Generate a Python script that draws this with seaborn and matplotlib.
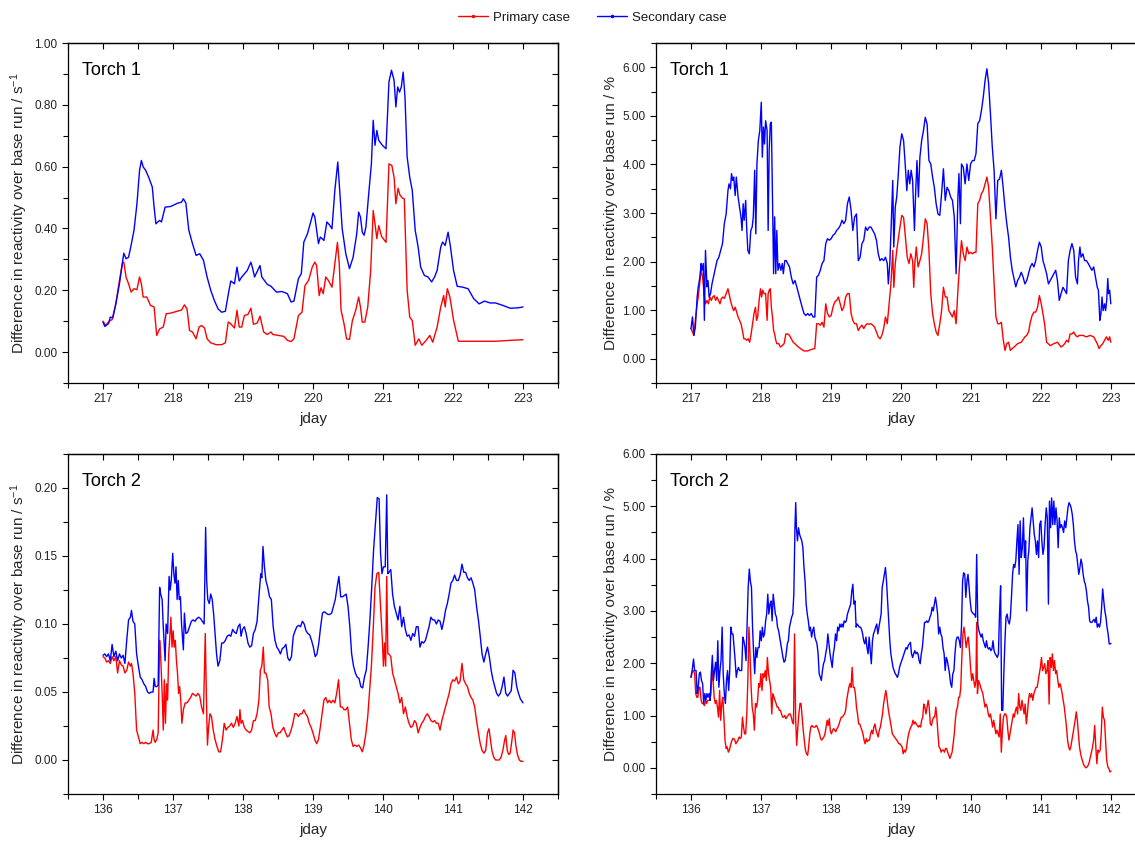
import numpy as np
import matplotlib
matplotlib.use('Agg')
import matplotlib.pyplot as plt
from matplotlib.lines import Line2D
from matplotlib.ticker import MultipleLocator, FormatStrFormatter
import seaborn as sns

# ---- Torch 1, reactivity difference (s^-1): (jday, value) ----
t1_rate_primary = [
    (217.000, 0.100), (217.037, 0.086), (217.078, 0.097), (217.104, 0.102), (217.130, 0.105),
    (217.183, 0.156), (217.235, 0.232), (217.276, 0.286), (217.297, 0.291), (217.329, 0.243),
    (217.365, 0.221), (217.402, 0.194), (217.443, 0.205), (217.485, 0.202), (217.522, 0.243),
    (217.548, 0.221), (217.574, 0.178), (217.626, 0.178), (217.678, 0.151), (217.730, 0.146),
    (217.767, 0.054), (217.809, 0.075), (217.861, 0.081), (217.902, 0.124), (217.965, 0.126),
    (218.043, 0.131), (218.122, 0.136), (218.163, 0.153), (218.200, 0.140), (218.236, 0.070),
    (218.278, 0.065), (218.330, 0.043), (218.372, 0.081), (218.408, 0.086), (218.450, 0.078),
    (218.487, 0.043), (218.539, 0.030), (218.617, 0.024), (218.695, 0.024), (218.748, 0.030),
    (218.789, 0.097), (218.815, 0.094), (218.878, 0.078), (218.914, 0.135), (218.946, 0.081),
    (218.982, 0.081), (219.019, 0.118), (219.071, 0.122), (219.113, 0.142), (219.149, 0.090),
    (219.201, 0.094), (219.243, 0.116), (219.295, 0.065), (219.347, 0.057), (219.400, 0.065),
    (219.426, 0.057), (219.504, 0.054), (219.582, 0.051), (219.634, 0.038), (219.687, 0.034),
    (219.728, 0.043), (219.791, 0.118), (219.843, 0.129), (219.885, 0.215), (219.937, 0.232),
    (219.989, 0.275), (220.026, 0.291), (220.052, 0.280), (220.088, 0.183), (220.114, 0.208),
    (220.146, 0.189), (220.182, 0.243), (220.219, 0.232), (220.271, 0.210), (220.312, 0.286),
    (220.349, 0.355), (220.375, 0.286), (220.401, 0.135), (220.443, 0.092), (220.479, 0.043),
    (220.521, 0.041), (220.563, 0.102), (220.610, 0.135), (220.652, 0.178), (220.678, 0.146),
    (220.704, 0.097), (220.740, 0.097), (220.782, 0.146), (220.824, 0.264), (220.860, 0.458),
    (220.886, 0.415), (220.912, 0.367), (220.939, 0.409), (220.980, 0.374), (221.043, 0.355),
    (221.085, 0.609), (221.126, 0.604), (221.158, 0.566), (221.184, 0.480), (221.215, 0.530),
    (221.241, 0.509), (221.278, 0.498), (221.304, 0.496), (221.345, 0.200), (221.382, 0.113),
    (221.418, 0.102), (221.460, 0.022), (221.512, 0.043), (221.554, 0.022), (221.617, 0.038),
    (221.669, 0.054), (221.710, 0.032), (221.773, 0.081), (221.825, 0.146), (221.867, 0.183),
    (221.888, 0.146), (221.919, 0.205), (221.956, 0.178), (222.008, 0.103), (222.076, 0.035),
    (222.190, 0.035), (222.399, 0.035), (222.608, 0.035), (222.816, 0.038), (223.000, 0.040),
]
t1_rate_secondary = [
    (217.000, 0.097), (217.026, 0.083), (217.078, 0.092), (217.104, 0.113), (217.141, 0.111),
    (217.183, 0.156), (217.235, 0.221), (217.276, 0.286), (217.297, 0.320), (217.329, 0.302),
    (217.365, 0.307), (217.391, 0.334), (217.443, 0.394), (217.485, 0.480), (217.522, 0.588),
    (217.548, 0.620), (217.574, 0.599), (217.610, 0.588), (217.652, 0.566), (217.704, 0.534),
    (217.730, 0.469), (217.756, 0.415), (217.782, 0.421), (217.809, 0.426), (217.835, 0.421),
    (217.887, 0.469), (217.965, 0.471), (218.069, 0.482), (218.122, 0.485), (218.148, 0.496),
    (218.184, 0.482), (218.226, 0.394), (218.278, 0.351), (218.330, 0.313), (218.382, 0.318),
    (218.435, 0.297), (218.487, 0.243), (218.539, 0.200), (218.591, 0.167), (218.643, 0.140),
    (218.695, 0.129), (218.748, 0.132), (218.800, 0.200), (218.826, 0.230), (218.878, 0.221),
    (218.914, 0.275), (218.946, 0.230), (218.982, 0.243), (219.061, 0.264), (219.113, 0.291),
    (219.139, 0.270), (219.165, 0.243), (219.243, 0.280), (219.269, 0.243), (219.347, 0.219),
    (219.400, 0.213), (219.478, 0.194), (219.556, 0.196), (219.634, 0.189), (219.687, 0.162),
    (219.728, 0.165), (219.791, 0.237), (219.833, 0.254), (219.869, 0.356), (219.921, 0.383),
    (219.973, 0.426), (220.000, 0.450), (220.026, 0.437), (220.078, 0.351), (220.104, 0.372),
    (220.130, 0.367), (220.156, 0.361), (220.198, 0.421), (220.234, 0.412), (220.271, 0.399),
    (220.312, 0.523), (220.354, 0.615), (220.375, 0.545), (220.417, 0.399), (220.469, 0.318),
    (220.521, 0.270), (220.573, 0.307), (220.625, 0.383), (220.652, 0.453), (220.678, 0.437),
    (220.704, 0.388), (220.730, 0.378), (220.756, 0.405), (220.792, 0.502), (220.834, 0.609),
    (220.860, 0.750), (220.886, 0.669), (220.912, 0.717), (220.939, 0.685), (220.991, 0.669),
    (221.043, 0.658), (221.085, 0.874), (221.121, 0.912), (221.158, 0.879), (221.184, 0.793),
    (221.210, 0.858), (221.236, 0.841), (221.262, 0.858), (221.288, 0.906), (221.314, 0.825),
    (221.345, 0.631), (221.382, 0.566), (221.418, 0.523), (221.460, 0.394), (221.502, 0.340),
    (221.538, 0.275), (221.591, 0.248), (221.643, 0.243), (221.695, 0.227), (221.737, 0.243),
    (221.773, 0.264), (221.825, 0.340), (221.851, 0.356), (221.888, 0.345), (221.930, 0.388),
    (221.961, 0.345), (222.008, 0.264), (222.060, 0.213), (222.138, 0.210), (222.216, 0.205),
    (222.295, 0.173), (222.373, 0.156), (222.451, 0.165), (222.530, 0.159), (222.608, 0.159),
    (222.712, 0.151), (222.816, 0.142), (222.921, 0.143), (223.000, 0.146),
]

# ---- Torch 1, reactivity difference (%) ----
t1_pct_primary = [
    (217.000, 0.62), (217.041, 0.48), (217.062, 0.79), (217.088, 1.13), (217.103, 1.27),
    (217.124, 1.54), (217.145, 1.82), (217.166, 1.68), (217.186, 1.34), (217.207, 1.13),
    (217.228, 1.20), (217.248, 1.13), (217.269, 1.27), (217.290, 1.20), (217.310, 1.27),
    (217.331, 1.30), (217.352, 1.20), (217.372, 1.27), (217.393, 1.20), (217.414, 1.13),
    (217.434, 1.24), (217.455, 1.27), (217.476, 1.24), (217.502, 1.34), (217.528, 1.44),
    (217.543, 1.34), (217.564, 1.20), (217.590, 1.06), (217.610, 0.99), (217.631, 1.06),
    (217.652, 0.96), (217.673, 0.86), (217.693, 0.79), (217.714, 0.72), (217.735, 0.58),
    (217.755, 0.41), (217.776, 0.41), (217.797, 0.38), (217.817, 0.41), (217.838, 0.34),
    (217.859, 0.51), (217.879, 0.72), (217.900, 0.93), (217.921, 1.06), (217.936, 0.79),
    (217.952, 0.86), (217.973, 1.20), (217.993, 1.44), (218.009, 1.27), (218.024, 1.41),
    (218.045, 1.34), (218.066, 1.34), (218.087, 0.79), (218.102, 1.34), (218.117, 1.41),
    (218.133, 1.44), (218.148, 1.06), (218.164, 0.86), (218.180, 0.58), (218.195, 0.51),
    (218.211, 0.38), (218.226, 0.31), (218.252, 0.31), (218.278, 0.24), (218.304, 0.27),
    (218.330, 0.31), (218.355, 0.51), (218.381, 0.51), (218.407, 0.48), (218.433, 0.41),
    (218.459, 0.34), (218.485, 0.31), (218.511, 0.27), (218.562, 0.21), (218.614, 0.16),
    (218.666, 0.16), (218.718, 0.19), (218.769, 0.21), (218.795, 0.72), (218.821, 0.72),
    (218.847, 0.69), (218.873, 0.75), (218.899, 0.65), (218.925, 1.13), (218.950, 0.93),
    (218.976, 0.86), (219.002, 0.89), (219.028, 1.06), (219.054, 1.17), (219.080, 1.20),
    (219.106, 1.27), (219.131, 1.13), (219.157, 0.99), (219.183, 1.06), (219.209, 1.27),
    (219.235, 1.34), (219.261, 1.34), (219.287, 0.93), (219.312, 0.79), (219.338, 0.72),
    (219.364, 0.72), (219.390, 0.58), (219.416, 0.65), (219.442, 0.69), (219.468, 0.62),
    (219.494, 0.69), (219.519, 0.72), (219.545, 0.71), (219.571, 0.72), (219.597, 0.69),
    (219.623, 0.65), (219.649, 0.55), (219.675, 0.45), (219.700, 0.41), (219.726, 0.48),
    (219.752, 0.62), (219.778, 0.86), (219.804, 0.72), (219.830, 1.13), (219.856, 1.54),
    (219.882, 2.23), (219.897, 1.47), (219.918, 1.95), (219.939, 2.23), (219.959, 2.44),
    (219.985, 2.71), (220.011, 2.95), (220.037, 2.91), (220.063, 2.50), (220.089, 2.09),
    (220.114, 1.96), (220.140, 2.16), (220.166, 2.02), (220.182, 1.47), (220.197, 1.96),
    (220.218, 2.30), (220.244, 1.89), (220.270, 2.02), (220.295, 2.16), (220.321, 2.50),
    (220.347, 2.88), (220.373, 2.78), (220.399, 2.23), (220.425, 1.34), (220.451, 0.93),
    (220.476, 0.72), (220.502, 0.55), (220.528, 0.48), (220.554, 0.72), (220.580, 0.99),
    (220.606, 1.47), (220.632, 1.27), (220.658, 1.27), (220.683, 0.99), (220.709, 0.93),
    (220.735, 0.86), (220.761, 0.99), (220.787, 0.72), (220.813, 1.41), (220.838, 1.95),
    (220.864, 2.43), (220.890, 2.16), (220.916, 2.02), (220.942, 2.30), (220.968, 2.16),
    (220.994, 2.19), (221.020, 2.16), (221.046, 2.19), (221.071, 2.19), (221.097, 3.19),
    (221.123, 3.26), (221.149, 3.40), (221.175, 3.46), (221.201, 3.60), (221.227, 3.74),
    (221.252, 3.53), (221.278, 2.91), (221.304, 2.30), (221.330, 1.54), (221.356, 0.86),
    (221.382, 0.72), (221.408, 0.72), (221.434, 0.75), (221.459, 0.41), (221.485, 0.17),
    (221.511, 0.31), (221.537, 0.34), (221.563, 0.17), (221.589, 0.21), (221.615, 0.24),
    (221.666, 0.31), (221.718, 0.34), (221.770, 0.45), (221.796, 0.48), (221.822, 0.55),
    (221.847, 0.75), (221.873, 0.89), (221.899, 0.96), (221.925, 0.96), (221.951, 1.06),
    (221.977, 1.30), (222.003, 1.13), (222.028, 0.93), (222.054, 0.69), (222.080, 0.34),
    (222.132, 0.27), (222.184, 0.31), (222.235, 0.34), (222.287, 0.24), (222.313, 0.27),
    (222.339, 0.31), (222.365, 0.38), (222.391, 0.34), (222.416, 0.51), (222.442, 0.51),
    (222.468, 0.55), (222.494, 0.48), (222.520, 0.45), (222.546, 0.48), (222.598, 0.48),
    (222.649, 0.45), (222.701, 0.48), (222.753, 0.45), (222.779, 0.38), (222.804, 0.31),
    (222.830, 0.21), (222.856, 0.27), (222.882, 0.31), (222.908, 0.38), (222.934, 0.45),
    (222.960, 0.38), (222.981, 0.45), (222.997, 0.34),
]
t1_pct_secondary = [
    (217.000, 0.62), (217.021, 0.86), (217.041, 0.48), (217.062, 0.65), (217.088, 1.27),
    (217.103, 1.47), (217.124, 1.65), (217.145, 1.96), (217.155, 1.82), (217.176, 1.96),
    (217.191, 0.79), (217.207, 2.23), (217.228, 1.48), (217.243, 1.61), (217.259, 1.27),
    (217.279, 1.34), (217.300, 1.54), (217.321, 1.68), (217.347, 1.85), (217.372, 2.02),
    (217.398, 2.09), (217.424, 2.23), (217.450, 2.37), (217.476, 2.78), (217.502, 2.98),
    (217.528, 3.46), (217.543, 3.60), (217.564, 3.50), (217.579, 3.81), (217.595, 3.67),
    (217.610, 3.74), (217.631, 3.36), (217.647, 3.74), (217.673, 3.33), (217.693, 3.12),
    (217.714, 2.92), (217.729, 2.64), (217.745, 3.19), (217.760, 2.85), (217.781, 3.26),
    (217.797, 2.64), (217.812, 2.23), (217.833, 2.16), (217.854, 2.64), (217.874, 2.71),
    (217.890, 2.92), (217.910, 3.88), (217.926, 2.57), (217.942, 4.01), (217.962, 4.49),
    (217.983, 4.70), (218.004, 5.28), (218.019, 4.15), (218.035, 4.77), (218.050, 4.42),
    (218.066, 4.90), (218.087, 4.70), (218.102, 2.64), (218.117, 4.29), (218.133, 4.84),
    (218.148, 4.87), (218.164, 3.33), (218.180, 1.75), (218.195, 2.92), (218.211, 1.75),
    (218.226, 2.64), (218.242, 1.82), (218.262, 1.96), (218.283, 1.82), (218.304, 1.96),
    (218.319, 1.75), (218.340, 2.02), (218.361, 2.02), (218.381, 1.96), (218.407, 1.89),
    (218.433, 1.68), (218.459, 1.54), (218.485, 1.61), (218.511, 1.48), (218.536, 1.34),
    (218.562, 1.20), (218.588, 1.06), (218.614, 0.93), (218.640, 0.89), (218.666, 0.93),
    (218.692, 0.89), (218.718, 0.93), (218.743, 0.86), (218.769, 0.86), (218.795, 1.68),
    (218.821, 1.72), (218.847, 1.82), (218.873, 1.96), (218.899, 2.02), (218.925, 2.37),
    (218.950, 2.47), (218.976, 2.44), (219.002, 2.47), (219.028, 2.54), (219.054, 2.57),
    (219.080, 2.64), (219.106, 2.68), (219.131, 2.74), (219.157, 2.85), (219.183, 2.78),
    (219.209, 2.85), (219.235, 3.19), (219.261, 3.33), (219.287, 3.05), (219.312, 2.64),
    (219.338, 2.92), (219.364, 2.98), (219.390, 2.02), (219.416, 2.09), (219.442, 2.37),
    (219.468, 2.44), (219.494, 2.71), (219.519, 2.64), (219.545, 2.71), (219.571, 2.71),
    (219.597, 2.64), (219.623, 2.57), (219.649, 2.44), (219.675, 2.16), (219.700, 2.02),
    (219.726, 2.06), (219.752, 2.02), (219.778, 2.09), (219.804, 1.96), (219.819, 1.54),
    (219.840, 1.96), (219.861, 2.78), (219.882, 3.67), (219.897, 2.30), (219.918, 3.12),
    (219.939, 3.33), (219.959, 3.74), (219.985, 4.36), (220.011, 4.63), (220.037, 4.49),
    (220.063, 3.94), (220.083, 3.46), (220.104, 3.88), (220.125, 3.60), (220.145, 3.88),
    (220.166, 3.67), (220.192, 2.64), (220.207, 3.33), (220.228, 4.08), (220.249, 3.33),
    (220.270, 4.15), (220.295, 4.49), (220.321, 4.70), (220.347, 4.97), (220.373, 4.83),
    (220.399, 4.08), (220.425, 4.01), (220.451, 3.74), (220.476, 3.53), (220.502, 3.19),
    (220.528, 2.98), (220.554, 2.95), (220.580, 3.40), (220.606, 3.91), (220.632, 3.26),
    (220.658, 3.53), (220.683, 3.46), (220.709, 3.33), (220.735, 3.26), (220.761, 2.92),
    (220.787, 1.75), (220.813, 3.33), (220.828, 3.81), (220.849, 2.78), (220.864, 4.01),
    (220.890, 3.94), (220.916, 3.60), (220.942, 4.01), (220.968, 3.67), (220.994, 4.01),
    (221.020, 4.08), (221.046, 4.08), (221.071, 4.22), (221.097, 4.84), (221.123, 4.90),
    (221.149, 5.11), (221.175, 5.38), (221.201, 5.73), (221.227, 5.97), (221.252, 5.66),
    (221.278, 5.04), (221.304, 4.36), (221.330, 3.88), (221.356, 2.88), (221.382, 3.67),
    (221.408, 3.70), (221.434, 3.88), (221.459, 3.53), (221.485, 3.12), (221.511, 2.78),
    (221.537, 2.50), (221.563, 2.09), (221.589, 1.82), (221.615, 1.65), (221.640, 1.48),
    (221.666, 1.61), (221.692, 1.68), (221.718, 1.78), (221.744, 1.68), (221.770, 1.54),
    (221.796, 1.61), (221.822, 1.75), (221.847, 1.89), (221.873, 1.96), (221.899, 1.89),
    (221.925, 2.02), (221.951, 2.23), (221.977, 2.40), (222.003, 2.30), (222.028, 2.02),
    (222.054, 1.89), (222.080, 1.75), (222.106, 1.54), (222.132, 1.61), (222.158, 1.68),
    (222.184, 1.75), (222.210, 1.82), (222.235, 1.61), (222.261, 1.20), (222.287, 1.34),
    (222.313, 1.47), (222.339, 1.41), (222.365, 1.34), (222.391, 2.02), (222.416, 2.23),
    (222.442, 2.37), (222.468, 2.23), (222.494, 1.68), (222.520, 1.54), (222.536, 2.02),
    (222.556, 2.30), (222.572, 2.09), (222.598, 2.16), (222.623, 2.02), (222.649, 2.02),
    (222.675, 1.96), (222.701, 1.89), (222.727, 1.82), (222.753, 1.89), (222.779, 1.68),
    (222.804, 1.47), (222.820, 1.41), (222.841, 0.79), (222.856, 0.93), (222.872, 1.27),
    (222.887, 0.99), (222.908, 1.13), (222.923, 0.99), (222.939, 1.20), (222.954, 1.65),
    (222.965, 1.34), (222.981, 1.41), (222.997, 1.13),
]

# ---- Torch 2, reactivity difference (s^-1) ----
t2_rate_primary = [
    (136.000, 0.076), (136.026, 0.075), (136.052, 0.072), (136.078, 0.073), (136.104, 0.071),
    (136.130, 0.076), (136.156, 0.073), (136.183, 0.076), (136.209, 0.064), (136.235, 0.073),
    (136.261, 0.070), (136.287, 0.069), (136.313, 0.064), (136.339, 0.066), (136.365, 0.072),
    (136.391, 0.069), (136.407, 0.071), (136.428, 0.064), (136.454, 0.049), (136.480, 0.022),
    (136.506, 0.017), (136.532, 0.012), (136.558, 0.013), (136.584, 0.012), (136.610, 0.013),
    (136.636, 0.012), (136.662, 0.012), (136.689, 0.013), (136.715, 0.022), (136.730, 0.015),
    (136.746, 0.013), (136.767, 0.015), (136.788, 0.020), (136.809, 0.088), (136.824, 0.076),
    (136.845, 0.049), (136.861, 0.022), (136.876, 0.059), (136.892, 0.027), (136.908, 0.056),
    (136.923, 0.044), (136.939, 0.078), (136.955, 0.091), (136.970, 0.105), (136.986, 0.083),
    (137.002, 0.095), (137.017, 0.083), (137.033, 0.088), (137.049, 0.073), (137.064, 0.064),
    (137.080, 0.049), (137.095, 0.054), (137.111, 0.044), (137.127, 0.027), (137.148, 0.037),
    (137.174, 0.042), (137.200, 0.042), (137.226, 0.044), (137.252, 0.046), (137.278, 0.049),
    (137.304, 0.048), (137.330, 0.047), (137.356, 0.049), (137.382, 0.047), (137.408, 0.039),
    (137.435, 0.034), (137.461, 0.093), (137.476, 0.049), (137.492, 0.011), (137.508, 0.024),
    (137.528, 0.034), (137.549, 0.032), (137.575, 0.022), (137.601, 0.015), (137.628, 0.010),
    (137.654, 0.006), (137.680, 0.006), (137.706, 0.015), (137.732, 0.027), (137.758, 0.022),
    (137.784, 0.024), (137.810, 0.025), (137.836, 0.027), (137.862, 0.024), (137.888, 0.027),
    (137.914, 0.032), (137.941, 0.025), (137.956, 0.037), (137.972, 0.027), (137.993, 0.029),
    (138.019, 0.024), (138.045, 0.022), (138.071, 0.021), (138.097, 0.020), (138.123, 0.022),
    (138.149, 0.029), (138.175, 0.029), (138.201, 0.034), (138.227, 0.044), (138.248, 0.066),
    (138.269, 0.069), (138.290, 0.083), (138.306, 0.064), (138.327, 0.064), (138.353, 0.059),
    (138.374, 0.039), (138.400, 0.034), (138.426, 0.024), (138.452, 0.020), (138.478, 0.017),
    (138.504, 0.020), (138.530, 0.020), (138.556, 0.022), (138.582, 0.024), (138.608, 0.020),
    (138.634, 0.017), (138.660, 0.018), (138.687, 0.022), (138.713, 0.027), (138.739, 0.034),
    (138.765, 0.034), (138.791, 0.032), (138.817, 0.034), (138.843, 0.034), (138.869, 0.037),
    (138.895, 0.034), (138.921, 0.032), (138.947, 0.027), (138.973, 0.024), (138.999, 0.020),
    (139.026, 0.015), (139.052, 0.012), (139.078, 0.015), (139.104, 0.024), (139.130, 0.034),
    (139.156, 0.044), (139.182, 0.046), (139.208, 0.042), (139.234, 0.044), (139.260, 0.042),
    (139.286, 0.044), (139.312, 0.042), (139.338, 0.049), (139.365, 0.059), (139.391, 0.039),
    (139.417, 0.039), (139.443, 0.037), (139.469, 0.037), (139.495, 0.039), (139.521, 0.027),
    (139.547, 0.015), (139.573, 0.010), (139.599, 0.011), (139.625, 0.010), (139.652, 0.011),
    (139.678, 0.009), (139.704, 0.006), (139.730, 0.011), (139.756, 0.020), (139.782, 0.032),
    (139.808, 0.051), (139.834, 0.069), (139.860, 0.096), (139.886, 0.127), (139.912, 0.137),
    (139.939, 0.138), (139.965, 0.113), (139.991, 0.088), (140.006, 0.069), (140.022, 0.086),
    (140.038, 0.069), (140.053, 0.135), (140.069, 0.078), (140.085, 0.078), (140.111, 0.076),
    (140.137, 0.064), (140.163, 0.059), (140.189, 0.054), (140.215, 0.049), (140.241, 0.042),
    (140.267, 0.046), (140.293, 0.034), (140.319, 0.039), (140.345, 0.032), (140.371, 0.027),
    (140.398, 0.024), (140.424, 0.025), (140.450, 0.029), (140.476, 0.027), (140.502, 0.020),
    (140.528, 0.024), (140.554, 0.027), (140.580, 0.029), (140.606, 0.032), (140.632, 0.034),
    (140.658, 0.032), (140.684, 0.029), (140.711, 0.028), (140.737, 0.029), (140.763, 0.027),
    (140.789, 0.027), (140.815, 0.022), (140.841, 0.029), (140.867, 0.034), (140.893, 0.039),
    (140.919, 0.044), (140.945, 0.049), (140.971, 0.056), (140.997, 0.059), (141.023, 0.058),
    (141.050, 0.061), (141.076, 0.056), (141.102, 0.058), (141.128, 0.071), (141.154, 0.059),
    (141.180, 0.056), (141.206, 0.054), (141.232, 0.049), (141.258, 0.046), (141.284, 0.044),
    (141.310, 0.039), (141.336, 0.029), (141.363, 0.020), (141.389, 0.012), (141.415, 0.007),
    (141.441, 0.005), (141.467, 0.007), (141.493, 0.020), (141.514, 0.023), (141.535, 0.015),
    (141.556, 0.007), (141.582, 0.002), (141.608, 0.000), (141.634, 0.000), (141.660, 0.000),
    (141.686, 0.002), (141.712, 0.007), (141.739, 0.015), (141.754, 0.018), (141.775, 0.007),
    (141.796, 0.004), (141.817, 0.005), (141.843, 0.015), (141.858, 0.022), (141.879, 0.020),
    (141.900, 0.010), (141.921, 0.004), (141.947, 0.000), (141.973, -0.001), (142.000, -0.001),
]
t2_rate_secondary = [
    (136.000, 0.077), (136.026, 0.078), (136.052, 0.076), (136.078, 0.078), (136.104, 0.073),
    (136.130, 0.085), (136.156, 0.076), (136.183, 0.080), (136.209, 0.073), (136.235, 0.078),
    (136.261, 0.075), (136.287, 0.077), (136.313, 0.071), (136.339, 0.088), (136.365, 0.103),
    (136.391, 0.105), (136.407, 0.110), (136.428, 0.102), (136.454, 0.100), (136.480, 0.078),
    (136.506, 0.069), (136.532, 0.061), (136.558, 0.059), (136.584, 0.056), (136.610, 0.054),
    (136.636, 0.050), (136.662, 0.049), (136.689, 0.050), (136.715, 0.050), (136.730, 0.060),
    (136.746, 0.054), (136.767, 0.054), (136.788, 0.055), (136.809, 0.127), (136.824, 0.122),
    (136.845, 0.118), (136.861, 0.098), (136.887, 0.073), (136.902, 0.100), (136.923, 0.093),
    (136.944, 0.135), (136.960, 0.125), (136.975, 0.132), (136.996, 0.152), (137.012, 0.137),
    (137.028, 0.130), (137.043, 0.142), (137.059, 0.118), (137.075, 0.132), (137.090, 0.118),
    (137.106, 0.120), (137.122, 0.100), (137.148, 0.081), (137.163, 0.108), (137.184, 0.093),
    (137.210, 0.094), (137.236, 0.098), (137.262, 0.102), (137.288, 0.103), (137.315, 0.102),
    (137.341, 0.104), (137.367, 0.105), (137.393, 0.104), (137.419, 0.102), (137.445, 0.100),
    (137.466, 0.171), (137.481, 0.132), (137.497, 0.118), (137.518, 0.115), (137.539, 0.122),
    (137.560, 0.118), (137.581, 0.107), (137.601, 0.093), (137.622, 0.078), (137.643, 0.069),
    (137.669, 0.073), (137.695, 0.086), (137.721, 0.086), (137.748, 0.088), (137.774, 0.091),
    (137.800, 0.092), (137.826, 0.091), (137.852, 0.096), (137.878, 0.094), (137.904, 0.093),
    (137.930, 0.098), (137.956, 0.100), (137.972, 0.091), (137.993, 0.096), (138.019, 0.098),
    (138.045, 0.093), (138.071, 0.086), (138.097, 0.083), (138.123, 0.084), (138.149, 0.093),
    (138.175, 0.096), (138.201, 0.102), (138.227, 0.120), (138.254, 0.137), (138.269, 0.134),
    (138.285, 0.157), (138.306, 0.142), (138.327, 0.132), (138.353, 0.127), (138.379, 0.120),
    (138.405, 0.118), (138.431, 0.098), (138.457, 0.088), (138.483, 0.083), (138.509, 0.081),
    (138.535, 0.078), (138.561, 0.082), (138.587, 0.083), (138.613, 0.085), (138.640, 0.075),
    (138.666, 0.073), (138.692, 0.076), (138.718, 0.091), (138.744, 0.095), (138.770, 0.098),
    (138.796, 0.099), (138.822, 0.098), (138.848, 0.102), (138.874, 0.100), (138.900, 0.095),
    (138.926, 0.093), (138.953, 0.092), (138.979, 0.088), (139.005, 0.083), (139.031, 0.076),
    (139.057, 0.078), (139.083, 0.086), (139.109, 0.098), (139.135, 0.108), (139.161, 0.109),
    (139.187, 0.108), (139.213, 0.107), (139.239, 0.107), (139.266, 0.108), (139.292, 0.113),
    (139.318, 0.118), (139.344, 0.127), (139.370, 0.135), (139.396, 0.120), (139.422, 0.120),
    (139.448, 0.121), (139.474, 0.122), (139.500, 0.113), (139.526, 0.098), (139.552, 0.078),
    (139.579, 0.069), (139.605, 0.064), (139.631, 0.061), (139.657, 0.060), (139.683, 0.054),
    (139.709, 0.053), (139.735, 0.061), (139.761, 0.066), (139.787, 0.083), (139.813, 0.103),
    (139.839, 0.127), (139.865, 0.154), (139.892, 0.174), (139.918, 0.193), (139.944, 0.192),
    (139.965, 0.152), (139.985, 0.137), (140.006, 0.142), (140.032, 0.142), (140.053, 0.195),
    (140.069, 0.137), (140.085, 0.138), (140.111, 0.140), (140.137, 0.122), (140.163, 0.113),
    (140.189, 0.108), (140.215, 0.103), (140.241, 0.113), (140.267, 0.098), (140.293, 0.105),
    (140.319, 0.096), (140.345, 0.091), (140.371, 0.092), (140.398, 0.088), (140.424, 0.093),
    (140.450, 0.091), (140.476, 0.098), (140.502, 0.098), (140.528, 0.083), (140.554, 0.087),
    (140.580, 0.086), (140.606, 0.088), (140.632, 0.093), (140.658, 0.098), (140.684, 0.105),
    (140.711, 0.103), (140.737, 0.103), (140.763, 0.100), (140.789, 0.103), (140.815, 0.102),
    (140.841, 0.096), (140.867, 0.102), (140.893, 0.110), (140.919, 0.115), (140.945, 0.122),
    (140.971, 0.130), (140.997, 0.132), (141.023, 0.136), (141.050, 0.132), (141.076, 0.132),
    (141.102, 0.136), (141.128, 0.144), (141.154, 0.138), (141.180, 0.138), (141.206, 0.134),
    (141.232, 0.132), (141.258, 0.134), (141.284, 0.130), (141.310, 0.125), (141.336, 0.113),
    (141.363, 0.103), (141.389, 0.091), (141.415, 0.078), (141.441, 0.072), (141.467, 0.078),
    (141.493, 0.083), (141.519, 0.076), (141.545, 0.066), (141.571, 0.059), (141.597, 0.054),
    (141.623, 0.049), (141.649, 0.047), (141.676, 0.049), (141.702, 0.054), (141.728, 0.061),
    (141.754, 0.049), (141.780, 0.047), (141.806, 0.049), (141.832, 0.051), (141.858, 0.066),
    (141.884, 0.064), (141.910, 0.054), (141.936, 0.049), (141.962, 0.045), (142.000, 0.042),
]

# ---- Torch 2, reactivity difference (%) ----
t2_pct_primary = [
    (136.000, 1.73), (136.016, 1.83), (136.036, 1.86), (136.052, 1.80), (136.067, 1.42),
    (136.083, 1.35), (136.098, 1.35), (136.114, 1.54), (136.129, 1.54), (136.145, 1.29),
    (136.160, 1.23), (136.176, 1.23), (136.191, 1.19), (136.207, 1.29), (136.222, 1.23),
    (136.238, 1.29), (136.253, 1.29), (136.269, 1.29), (136.284, 1.42), (136.300, 1.86),
    (136.315, 1.67), (136.331, 1.35), (136.347, 1.23), (136.362, 1.29), (136.378, 1.16),
    (136.393, 0.97), (136.409, 1.48), (136.424, 0.91), (136.440, 1.23), (136.455, 1.35),
    (136.471, 0.91), (136.486, 0.53), (136.502, 0.37), (136.517, 0.40), (136.533, 0.30),
    (136.548, 0.34), (136.564, 0.43), (136.579, 0.50), (136.595, 0.56), (136.610, 0.56),
    (136.626, 0.53), (136.641, 0.46), (136.657, 0.50), (136.672, 0.53), (136.688, 0.59),
    (136.703, 0.56), (136.719, 0.59), (136.735, 0.97), (136.750, 0.78), (136.766, 0.65),
    (136.781, 0.65), (136.797, 1.03), (136.812, 1.67), (136.828, 2.69), (136.843, 2.18),
    (136.859, 1.54), (136.874, 1.16), (136.890, 1.03), (136.905, 0.72), (136.921, 1.23),
    (136.936, 1.16), (136.952, 1.29), (136.967, 1.61), (136.983, 1.54), (136.998, 1.80),
    (137.014, 1.48), (137.029, 1.80), (137.045, 1.73), (137.060, 1.86), (137.076, 1.67),
    (137.091, 2.11), (137.107, 1.80), (137.123, 1.67), (137.138, 1.54), (137.154, 1.03),
    (137.169, 1.42), (137.185, 1.35), (137.200, 1.29), (137.216, 1.23), (137.231, 1.16),
    (137.247, 1.16), (137.262, 1.10), (137.278, 1.10), (137.293, 1.03), (137.309, 0.97),
    (137.324, 0.97), (137.340, 1.00), (137.355, 0.94), (137.371, 0.97), (137.386, 1.00),
    (137.402, 1.03), (137.417, 1.03), (137.433, 0.97), (137.448, 0.88), (137.464, 0.84),
    (137.479, 2.56), (137.495, 0.91), (137.510, 0.43), (137.526, 0.78), (137.541, 1.03),
    (137.557, 1.23), (137.572, 1.23), (137.588, 0.97), (137.603, 0.72), (137.619, 0.53),
    (137.634, 0.34), (137.650, 0.27), (137.666, 0.24), (137.681, 0.40), (137.697, 0.65),
    (137.712, 0.78), (137.728, 0.81), (137.743, 0.78), (137.759, 0.78), (137.774, 0.78),
    (137.790, 0.81), (137.805, 0.78), (137.821, 0.72), (137.836, 0.65), (137.852, 0.56),
    (137.867, 0.53), (137.883, 0.56), (137.898, 0.59), (137.914, 0.65), (137.929, 0.78),
    (137.945, 0.91), (137.960, 0.81), (137.976, 0.94), (137.992, 0.69), (138.007, 0.65),
    (138.023, 0.72), (138.038, 0.75), (138.054, 0.72), (138.069, 0.69), (138.085, 0.75),
    (138.100, 0.78), (138.116, 0.84), (138.131, 0.91), (138.147, 0.97), (138.162, 0.97),
    (138.178, 1.00), (138.193, 1.03), (138.209, 1.10), (138.224, 1.29), (138.240, 1.42),
    (138.255, 1.54), (138.271, 1.61), (138.286, 1.54), (138.302, 1.92), (138.317, 1.54),
    (138.333, 1.54), (138.348, 1.42), (138.364, 1.16), (138.379, 1.03), (138.395, 0.84),
    (138.410, 0.84), (138.426, 0.78), (138.441, 0.72), (138.457, 0.65), (138.472, 0.53),
    (138.488, 0.46), (138.504, 0.56), (138.519, 0.50), (138.535, 0.53), (138.550, 0.53),
    (138.566, 0.65), (138.581, 0.72), (138.597, 0.65), (138.612, 0.78), (138.628, 0.84),
    (138.643, 0.72), (138.659, 0.65), (138.674, 0.59), (138.690, 0.72), (138.705, 0.78),
    (138.721, 0.91), (138.736, 1.03), (138.752, 1.23), (138.767, 1.35), (138.783, 1.48),
    (138.798, 1.35), (138.814, 1.16), (138.829, 1.03), (138.845, 0.91), (138.861, 0.78),
    (138.876, 0.65), (138.892, 0.62), (138.907, 0.59), (138.923, 0.56), (138.938, 0.53),
    (138.954, 0.50), (138.969, 0.46), (138.985, 0.46), (139.000, 0.43), (139.016, 0.40),
    (139.031, 0.27), (139.047, 0.34), (139.062, 0.30), (139.078, 0.37), (139.093, 0.53),
    (139.109, 0.65), (139.124, 0.72), (139.140, 0.78), (139.155, 0.81), (139.171, 0.91),
    (139.186, 0.84), (139.202, 0.88), (139.217, 0.84), (139.233, 0.81), (139.248, 0.78),
    (139.264, 0.81), (139.279, 0.78), (139.295, 0.91), (139.310, 0.97), (139.326, 1.22),
    (139.341, 1.16), (139.357, 1.03), (139.372, 1.16), (139.388, 1.29), (139.403, 1.16),
    (139.419, 0.84), (139.435, 0.81), (139.450, 0.91), (139.466, 0.97), (139.481, 0.97),
    (139.497, 1.16), (139.512, 0.97), (139.528, 0.65), (139.543, 0.40), (139.559, 0.37),
    (139.574, 0.30), (139.590, 0.34), (139.605, 0.34), (139.621, 0.30), (139.636, 0.37),
    (139.652, 0.37), (139.667, 0.30), (139.683, 0.24), (139.698, 0.18), (139.714, 0.24),
    (139.730, 0.30), (139.745, 0.46), (139.761, 0.65), (139.776, 0.91), (139.792, 1.10),
    (139.807, 1.16), (139.823, 1.35), (139.838, 1.35), (139.854, 1.54), (139.869, 2.11),
    (139.885, 2.56), (139.900, 2.69), (139.916, 2.50), (139.931, 2.30), (139.947, 2.43),
    (139.962, 2.50), (139.978, 2.24), (139.993, 1.92), (140.009, 1.67), (140.024, 1.80),
    (140.040, 1.67), (140.055, 1.54), (140.071, 1.67), (140.081, 2.78), (140.092, 1.42),
    (140.107, 1.67), (140.123, 1.61), (140.138, 1.54), (140.154, 1.48), (140.169, 1.42),
    (140.185, 1.29), (140.200, 1.16), (140.216, 1.22), (140.231, 1.16), (140.247, 1.03),
    (140.262, 0.97), (140.278, 1.03), (140.293, 0.91), (140.309, 0.78), (140.324, 0.91),
    (140.340, 0.78), (140.356, 0.65), (140.371, 0.72), (140.387, 0.65), (140.402, 0.59),
    (140.418, 1.03), (140.433, 0.30), (140.449, 0.72), (140.464, 0.97), (140.480, 1.03),
    (140.495, 1.03), (140.511, 0.97), (140.526, 0.72), (140.542, 0.53), (140.557, 0.65),
    (140.573, 0.78), (140.588, 0.91), (140.604, 1.03), (140.619, 0.97), (140.635, 1.10),
    (140.650, 1.16), (140.666, 1.03), (140.681, 1.42), (140.697, 1.16), (140.712, 1.10),
    (140.728, 1.29), (140.743, 1.16), (140.759, 1.03), (140.774, 1.22), (140.790, 0.84),
    (140.805, 1.03), (140.821, 1.29), (140.836, 1.42), (140.852, 1.35), (140.867, 1.42),
    (140.883, 1.29), (140.898, 1.42), (140.914, 1.48), (140.929, 1.54), (140.945, 1.54),
    (140.960, 1.67), (140.976, 1.80), (140.991, 1.92), (141.007, 2.11), (141.022, 1.86),
    (141.038, 1.92), (141.053, 1.99), (141.069, 1.80), (141.085, 1.86), (141.100, 2.05),
    (141.116, 1.22), (141.131, 2.11), (141.147, 1.92), (141.162, 2.18), (141.178, 1.86),
    (141.193, 2.05), (141.209, 1.80), (141.224, 1.86), (141.240, 1.67), (141.255, 1.54),
    (141.271, 1.61), (141.286, 1.54), (141.302, 1.42), (141.317, 1.29), (141.333, 1.16),
    (141.349, 0.97), (141.364, 0.78), (141.380, 0.53), (141.395, 0.40), (141.411, 0.34),
    (141.426, 0.40), (141.442, 0.53), (141.457, 0.65), (141.473, 0.78), (141.488, 0.91),
    (141.504, 1.07), (141.519, 0.91), (141.535, 0.65), (141.550, 0.40), (141.566, 0.27),
    (141.581, 0.18), (141.597, 0.11), (141.612, 0.05), (141.628, 0.02), (141.643, 0.00),
    (141.659, 0.02), (141.674, 0.05), (141.690, 0.11), (141.705, 0.21), (141.721, 0.30),
    (141.736, 0.40), (141.752, 0.53), (141.767, 0.81), (141.783, 0.40), (141.798, 0.08),
    (141.814, 0.34), (141.829, 0.30), (141.845, 0.34), (141.860, 0.65), (141.876, 1.16),
    (141.891, 0.97), (141.907, 0.91), (141.922, 0.53), (141.938, 0.15), (141.954, 0.02),
    (141.969, -0.01), (141.985, -0.08), (142.000, -0.06),
]
t2_pct_secondary = [
    (136.000, 1.73), (136.016, 1.86), (136.036, 2.08), (136.052, 1.86), (136.072, 1.86),
    (136.088, 1.42), (136.103, 1.54), (136.119, 1.80), (136.134, 1.83), (136.150, 1.67),
    (136.166, 1.61), (136.181, 1.23), (136.197, 1.42), (136.212, 1.29), (136.228, 1.42),
    (136.243, 1.35), (136.259, 1.42), (136.274, 1.29), (136.290, 1.80), (136.305, 2.15),
    (136.321, 1.67), (136.336, 1.86), (136.352, 2.02), (136.367, 1.67), (136.383, 2.43),
    (136.398, 1.54), (136.414, 1.86), (136.429, 2.05), (136.445, 2.69), (136.460, 1.80),
    (136.476, 1.42), (136.491, 1.23), (136.507, 1.67), (136.522, 1.86), (136.538, 1.48),
    (136.553, 1.86), (136.569, 2.69), (136.585, 2.56), (136.600, 2.56), (136.616, 2.30),
    (136.631, 2.05), (136.647, 1.73), (136.662, 1.86), (136.678, 1.92), (136.693, 1.86),
    (136.709, 1.86), (136.724, 1.86), (136.740, 2.50), (136.755, 2.43), (136.771, 2.30),
    (136.786, 2.05), (136.802, 2.81), (136.817, 3.45), (136.833, 3.80), (136.848, 3.57),
    (136.864, 3.45), (136.879, 2.69), (136.895, 2.18), (136.910, 1.80), (136.926, 2.30),
    (136.941, 2.11), (136.957, 2.30), (136.973, 2.30), (136.988, 2.62), (137.004, 2.43),
    (137.019, 2.69), (137.035, 2.50), (137.050, 2.56), (137.066, 2.81), (137.081, 2.94),
    (137.097, 3.32), (137.112, 2.94), (137.128, 3.13), (137.143, 3.19), (137.159, 2.81),
    (137.174, 3.32), (137.190, 3.13), (137.205, 2.94), (137.221, 2.88), (137.236, 2.69),
    (137.252, 2.62), (137.267, 2.50), (137.283, 2.37), (137.298, 2.24), (137.314, 2.11),
    (137.329, 2.02), (137.345, 2.05), (137.360, 2.18), (137.376, 2.37), (137.391, 2.43),
    (137.407, 2.69), (137.422, 2.78), (137.438, 2.88), (137.454, 2.94), (137.469, 3.32),
    (137.485, 4.59), (137.496, 5.07), (137.506, 4.59), (137.521, 4.34), (137.536, 4.59),
    (137.552, 4.46), (137.567, 4.40), (137.583, 4.34), (137.598, 4.21), (137.614, 3.83),
    (137.630, 3.57), (137.645, 3.13), (137.661, 2.94), (137.676, 2.81), (137.692, 2.62),
    (137.707, 2.69), (137.723, 2.50), (137.738, 2.62), (137.754, 2.69), (137.769, 2.50),
    (137.785, 2.43), (137.800, 2.37), (137.816, 2.18), (137.831, 1.80), (137.847, 1.73),
    (137.862, 1.67), (137.878, 1.86), (137.893, 1.99), (137.909, 2.05), (137.924, 2.18),
    (137.940, 2.30), (137.955, 2.56), (137.971, 2.37), (137.986, 2.18), (138.002, 2.05),
    (138.017, 1.92), (138.033, 2.18), (138.048, 2.30), (138.064, 2.56), (138.080, 2.43),
    (138.095, 2.69), (138.111, 2.62), (138.126, 2.75), (138.142, 2.69), (138.157, 2.75),
    (138.173, 2.69), (138.188, 2.81), (138.204, 2.78), (138.219, 2.81), (138.235, 2.94),
    (138.250, 3.00), (138.266, 3.07), (138.281, 3.13), (138.297, 3.38), (138.312, 3.51),
    (138.328, 3.13), (138.343, 3.19), (138.359, 2.69), (138.374, 2.75), (138.390, 2.72),
    (138.405, 2.69), (138.421, 2.69), (138.436, 2.65), (138.452, 2.56), (138.467, 2.43),
    (138.483, 2.37), (138.499, 2.50), (138.514, 2.30), (138.530, 2.18), (138.545, 2.50),
    (138.561, 2.24), (138.576, 1.99), (138.592, 2.43), (138.607, 2.56), (138.623, 2.62),
    (138.638, 2.69), (138.654, 2.75), (138.669, 2.56), (138.685, 2.69), (138.700, 2.81),
    (138.716, 2.94), (138.731, 3.45), (138.747, 3.57), (138.762, 3.70), (138.778, 3.83),
    (138.793, 3.57), (138.809, 3.19), (138.824, 2.81), (138.840, 2.43), (138.855, 2.18),
    (138.871, 2.05), (138.886, 1.92), (138.902, 1.86), (138.917, 1.80), (138.933, 1.77),
    (138.948, 1.73), (138.964, 1.80), (138.979, 1.92), (138.995, 1.99), (139.011, 2.05),
    (139.026, 2.11), (139.042, 2.18), (139.057, 2.24), (139.073, 2.30), (139.088, 2.27),
    (139.104, 2.34), (139.119, 2.37), (139.135, 2.40), (139.150, 2.18), (139.166, 2.11),
    (139.181, 2.18), (139.197, 2.24), (139.212, 2.18), (139.228, 2.21), (139.243, 2.18),
    (139.259, 2.05), (139.274, 1.99), (139.290, 2.18), (139.305, 2.30), (139.321, 2.56),
    (139.336, 2.78), (139.352, 2.78), (139.368, 2.81), (139.383, 2.78), (139.399, 2.81),
    (139.414, 2.88), (139.430, 2.94), (139.445, 3.07), (139.461, 3.00), (139.476, 3.13),
    (139.492, 3.26), (139.507, 3.13), (139.523, 2.94), (139.538, 2.56), (139.554, 2.69),
    (139.569, 2.56), (139.585, 2.50), (139.600, 2.30), (139.616, 2.18), (139.631, 1.86),
    (139.647, 2.11), (139.662, 2.05), (139.678, 1.92), (139.693, 1.80), (139.709, 1.61),
    (139.725, 1.54), (139.740, 1.80), (139.756, 1.86), (139.771, 2.18), (139.787, 2.43),
    (139.802, 2.50), (139.818, 2.50), (139.833, 2.43), (139.849, 2.30), (139.864, 2.69),
    (139.880, 3.57), (139.895, 3.73), (139.911, 3.70), (139.926, 3.26), (139.942, 3.57),
    (139.957, 3.70), (139.973, 3.45), (139.988, 3.19), (140.004, 3.00), (140.019, 2.97),
    (140.035, 2.94), (140.050, 2.94), (140.066, 2.88), (140.081, 4.08), (140.097, 2.75),
    (140.113, 2.62), (140.128, 2.56), (140.144, 2.50), (140.159, 2.56), (140.175, 2.43),
    (140.190, 2.37), (140.206, 2.30), (140.221, 2.43), (140.237, 2.30), (140.252, 2.27),
    (140.268, 2.30), (140.283, 2.24), (140.299, 2.27), (140.314, 2.43), (140.330, 2.24),
    (140.345, 2.18), (140.361, 2.15), (140.376, 2.11), (140.392, 2.18), (140.407, 2.94),
    (140.423, 3.48), (140.438, 1.10), (140.454, 1.10), (140.469, 1.80), (140.485, 2.43),
    (140.500, 2.88), (140.516, 2.94), (140.531, 2.81), (140.547, 2.75), (140.562, 2.88),
    (140.578, 3.26), (140.594, 3.70), (140.609, 3.89), (140.625, 3.83), (140.640, 3.96),
    (140.656, 4.34), (140.671, 4.65), (140.687, 3.70), (140.702, 4.72), (140.718, 4.02),
    (140.733, 4.21), (140.749, 4.78), (140.764, 4.02), (140.780, 4.34), (140.795, 3.00),
    (140.811, 3.96), (140.826, 4.15), (140.842, 4.59), (140.857, 4.78), (140.873, 4.97),
    (140.888, 4.72), (140.904, 4.46), (140.919, 4.34), (140.935, 4.08), (140.950, 4.34),
    (140.966, 4.02), (140.981, 4.65), (140.997, 4.72), (141.012, 4.34), (141.028, 4.08),
    (141.043, 4.21), (141.059, 4.65), (141.075, 4.97), (141.090, 4.78), (141.106, 3.13),
    (141.121, 5.10), (141.137, 4.59), (141.152, 5.16), (141.168, 4.65), (141.183, 5.10),
    (141.199, 4.65), (141.214, 4.97), (141.230, 4.72), (141.245, 4.21), (141.261, 4.78),
    (141.276, 4.59), (141.292, 4.65), (141.307, 4.59), (141.323, 4.50), (141.338, 4.72),
    (141.354, 4.59), (141.369, 4.78), (141.385, 4.97), (141.400, 5.07), (141.416, 5.03),
    (141.431, 4.97), (141.447, 4.84), (141.462, 4.65), (141.478, 4.34), (141.494, 4.15),
    (141.509, 4.08), (141.525, 3.89), (141.540, 3.70), (141.556, 3.83), (141.571, 3.99),
    (141.587, 3.89), (141.602, 3.70), (141.618, 3.57), (141.633, 3.51), (141.649, 3.38),
    (141.664, 3.19), (141.680, 3.07), (141.695, 2.81), (141.711, 2.78), (141.726, 2.78),
    (141.742, 2.81), (141.757, 2.84), (141.773, 2.78), (141.788, 2.88), (141.804, 2.69),
    (141.819, 2.75), (141.835, 2.69), (141.850, 2.78), (141.866, 3.07), (141.881, 3.42),
    (141.897, 3.19), (141.912, 3.00), (141.928, 2.88), (141.943, 2.69), (141.959, 2.56),
    (141.974, 2.37), (141.990, 2.37), (142.000, 2.38),
]

series_labels = ['Primary case', 'Secondary case']
torch_labels = ['Torch 1', 'Torch 1', 'Torch 2', 'Torch 2']
ylabel_rate = 'Difference in reactivity over base run / $\\mathregular{s^{-1}}$'
ylabel_pct = 'Difference in reactivity over base run / %'

PRIMARY = '#ff0000'
SECONDARY = '#0000ff'

sns.set_style('ticks', {'axes.edgecolor': 'black', 'xtick.color': 'black',
                        'ytick.color': 'black', 'text.color': '#1a1a1a'})
plt.rcParams['font.family'] = ['Liberation Sans', 'DejaVu Sans']
plt.rcParams['mathtext.default'] = 'regular'
plt.rcParams['axes.linewidth'] = 0.9


def draw_panel(ax, primary, secondary, xlim, ylim, ymajor, yminor, ylabel, torch):
    p = np.array(primary)
    s = np.array(secondary)
    sns.lineplot(x=p[:, 0], y=p[:, 1], ax=ax, color=PRIMARY, lw=1.0,
                 estimator=None, sort=False)
    sns.lineplot(x=s[:, 0], y=s[:, 1], ax=ax, color=SECONDARY, lw=1.0,
                 estimator=None, sort=False)
    ax.set_xlim(*xlim)
    ax.set_ylim(*ylim)
    ax.xaxis.set_major_locator(MultipleLocator(1))
    ax.xaxis.set_minor_locator(MultipleLocator(0.5))
    ax.yaxis.set_major_locator(MultipleLocator(ymajor))
    ax.yaxis.set_minor_locator(MultipleLocator(yminor))
    ax.yaxis.set_major_formatter(FormatStrFormatter('%.2f'))
    ax.tick_params(which='both', direction='out', labelsize=8.5, width=0.8,
                   colors='black', labelcolor='#222222')
    ax.tick_params(which='major', length=4)
    ax.tick_params(which='minor', length=3.5)
    # inward ticks on the top and right frame
    top = ax.secondary_xaxis('top')
    top.xaxis.set_major_locator(MultipleLocator(1))
    top.xaxis.set_minor_locator(MultipleLocator(0.5))
    top.tick_params(which='both', direction='in', length=4, width=0.8, labeltop=False)
    right = ax.secondary_yaxis('right')
    right.yaxis.set_major_locator(MultipleLocator(ymajor))
    right.yaxis.set_minor_locator(MultipleLocator(yminor))
    right.tick_params(which='both', direction='in', length=4, width=0.8, labelright=False)
    ax.set_xlabel('jday', fontsize=11)
    ax.set_ylabel(ylabel, fontsize=11)
    ax.xaxis.set_label_coords(0.5, -0.085)
    ax.yaxis.set_label_coords(-0.078, 0.5)
    ax.text(0.028, 0.92, torch, transform=ax.transAxes, fontsize=13,
            ha='left', va='center', color='black')


fig = plt.figure(figsize=(11.35, 8.41), dpi=100)
w, h = 490 / 1135, 340 / 841
ax_tl = fig.add_axes([68 / 1135, 1 - 383 / 841, w, h])
ax_tr = fig.add_axes([656 / 1135, 1 - 383 / 841, w, h])
ax_bl = fig.add_axes([68 / 1135, 1 - 794 / 841, w, h])
ax_br = fig.add_axes([656 / 1135, 1 - 794 / 841, w, h])

draw_panel(ax_tl, t1_rate_primary, t1_rate_secondary, (216.5, 223.5), (-0.1, 1.0),
           0.2, 0.1, ylabel_rate, torch_labels[0])
draw_panel(ax_tr, t1_pct_primary, t1_pct_secondary, (216.5, 223.5), (-0.5, 6.5),
           1.0, 0.5, ylabel_pct, torch_labels[1])
draw_panel(ax_bl, t2_rate_primary, t2_rate_secondary, (135.5, 142.5), (-0.025, 0.225),
           0.05, 0.025, ylabel_rate, torch_labels[2])
draw_panel(ax_br, t2_pct_primary, t2_pct_secondary, (135.5, 142.5), (-0.5, 6.0),
           1.0, 0.5, ylabel_pct, torch_labels[3])

handles = [Line2D([], [], color=PRIMARY, lw=1.0, marker='o', ms=1.5),
           Line2D([], [], color=SECONDARY, lw=1.0, marker='o', ms=1.5)]
fig.legend(handles, series_labels, loc='center', bbox_to_anchor=(0.522, 0.979),
           ncol=2, frameon=False, fontsize=9.5, handlelength=2.3,
           handletextpad=0.4, columnspacing=2.0, numpoints=1)

fig.savefig('out.png', dpi=100)
